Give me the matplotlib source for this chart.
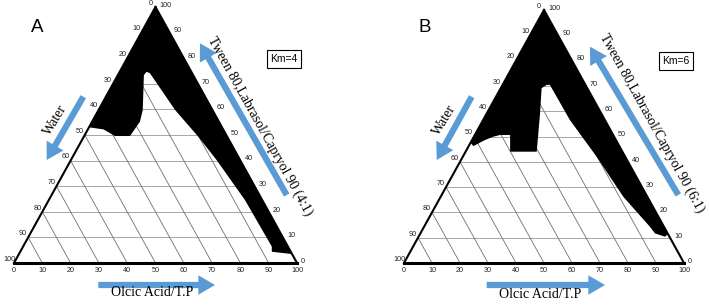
import matplotlib
matplotlib.use("Agg")
import matplotlib.pyplot as plt

W_PX, H_PX = 709, 305
fig = plt.figure(figsize=(7.09, 3.05), dpi=100)

# ---------------- data ----------------
tick_values = [0, 10, 20, 30, 40, 50, 60, 70, 80, 90, 100]

# microemulsion region boundary, Km=4 (oil %, surfactant mix %)
a_oil = [0, 0, 5.5, 10.9, 16.2, 16.9, 15.6, 9.2, 9.5, 11.0, 27.0, 40.5, 51.5, 69.3, 87.9, 88.9, 96.4, 100]
a_surf = [100, 53.0, 52.2, 49.6, 49.6, 55.2, 59.8, 73.4, 74.7, 74.1, 59.8, 49.3, 40.2, 24.6, 6.4, 4.4, 3.5, 0]

# microemulsion region boundary, Km=6
b_oil = [0, 0, 1.7, 4.6, 6.9, 9.0, 12.6, 15.9, 25.4, 19.0, 14.6, 15.8, 16.9, 31.0, 47.8, 65.2, 80.7, 83.8, 88.0, 88.6]
b_surf = [100, 47.5, 46.2, 48.6, 49.9, 50.6, 50.6, 44.0, 44.0, 59.2, 69.1, 70.4, 70.4, 56.5, 42.0, 26.2, 14.3, 11.7, 10.4, 11.4]

panel_letters = ["A", "B"]
km_labels = ["Km=4", "Km=6"]
surf_labels = ["Tween 80,Labrasol/Capryol 90 (4:1)", "Tween 80,Labrasol/Capryol 90 (6:1)"]
water_label = "Water"
oil_label = "Olcic Acid/T.P"

# ---------------- styling / layout ----------------
BLUE = "#5b9bd5"
SERIF = ["Liberation Serif", "DejaVu Serif"]
SANS = ["Liberation Sans", "DejaVu Sans"]

panels = [
    dict(rect=(0, 354.5), tri=(14, 297, 263, 7), oil=a_oil, surf=a_surf,
         letter=(37, 28), km=(284, 59), water_txt=(55, 120), surf_txt=(260, 126), oil_txt=(152, 293),
         water_arrow=((83.3, 96.7), (46.7, 160)), surf_arrow=((286.7, 195), (200, 43.3)),
         oil_arrow=((98.3, 285), (215, 285))),
    dict(rect=(354.5, 709), tri=(404, 684, 263, 10), oil=b_oil, surf=b_surf,
         letter=(425, 28), km=(676, 61), water_txt=(444, 120), surf_txt=(652, 123), oil_txt=(540, 295),
         water_arrow=((471.7, 96.7), (436.7, 160)), surf_arrow=((678.3, 195), (590, 46.7)),
         oil_arrow=((486.7, 285), (605, 285))),
]


def ff(p):
    return (p[0] / W_PX, 1 - p[1] / H_PX)


def cart(o, s):
    return o + s / 2.0, s


for i, P in enumerate(panels):
    left, right = P["rect"]
    x0, x1, yb, yt = P["tri"]
    sx = (x1 - x0) / 100.0
    sy = (yb - yt) / 100.0
    ax = fig.add_axes([left / W_PX, 0, (right - left) / W_PX, 1])
    ax.set_xlim((left - x0) / sx, (right - x0) / sx)
    ax.set_ylim((yb - H_PX) / sy, yb / sy)
    ax.axis("off")

    # grid
    for k in tick_values[1:-1]:
        # constant surfactant (horizontal)
        xa, ya = cart(0, k)
        xb, yb2 = cart(100 - k, k)
        ax.plot([xa, xb], [ya, yb2], color="#a6a6a6", lw=0.7, zorder=1)
        # constant water
        xa, ya = cart(k, 0)
        xb, yb2 = cart(0, k)
        ax.plot([xa, xb], [ya, yb2], color="#6f6f6f", lw=0.6, zorder=1)

    # region
    pts = [cart(o, s) for o, s in zip(P["oil"], P["surf"])]
    ax.fill([p[0] for p in pts], [p[1] for p in pts], color="black", lw=0, zorder=2)

    # triangle edges
    ax.plot([0, 100], [0, 0], color="black", lw=2.2, zorder=3, solid_capstyle="projecting")
    ax.plot([0, 50], [0, 100], color="black", lw=1.5, zorder=3)
    ax.plot([50, 100], [100, 0], color="black", lw=1.5, zorder=3)

    # tick labels
    for v in tick_values:
        # bottom: oil
        ax.annotate(str(v), xy=cart(v, 0), xytext=(0, -5.6), textcoords="offset points",
                    ha="center", va="center", fontsize=5.2, family=SANS, color="#222222")
        # left: water
        ax.annotate(str(v), xy=cart(0, 100 - v), xytext=(-3.6, 2.6), textcoords="offset points",
                    ha="center", va="center", fontsize=5.2, family=SANS, color="#222222")
        # right: surfactant
        ax.annotate(str(v), xy=cart(100 - v, v), xytext=(3.0, 1.2), textcoords="offset points",
                    ha="left", va="center", fontsize=5.2, family=SANS, color="#222222")

    # labels
    fig.text(*ff(P["letter"]), panel_letters[i], fontsize=13.5, family=SANS, ha="center", va="center")
    fig.text(*ff(P["km"]), km_labels[i], fontsize=7.5, family=SANS, ha="center", va="center",
             bbox=dict(boxstyle="square,pad=0.35", fc="white", ec="black", lw=0.8))
    fig.text(*ff(P["water_txt"]), water_label, fontsize=10, family=SERIF, rotation=59,
             ha="center", va="center", rotation_mode="anchor")
    fig.text(*ff(P["surf_txt"]), surf_labels[i], fontsize=10, family=SERIF, rotation=-61,
             ha="center", va="center", rotation_mode="anchor")
    fig.text(*ff(P["oil_txt"]), oil_label, fontsize=10, family=SERIF, ha="center", va="center")

    # arrows
    for key in ("water_arrow", "surf_arrow", "oil_arrow"):
        tail, tip = P[key]
        fig.add_artist(matplotlib.patches.FancyArrowPatch(
            ff(tail), ff(tip), transform=fig.transFigure,
            arrowstyle="simple,head_length=1.2,head_width=1.4,tail_width=0.45",
            mutation_scale=10, color=BLUE, lw=0, shrinkA=0, shrinkB=0))

fig.savefig("out.png", dpi=100)
